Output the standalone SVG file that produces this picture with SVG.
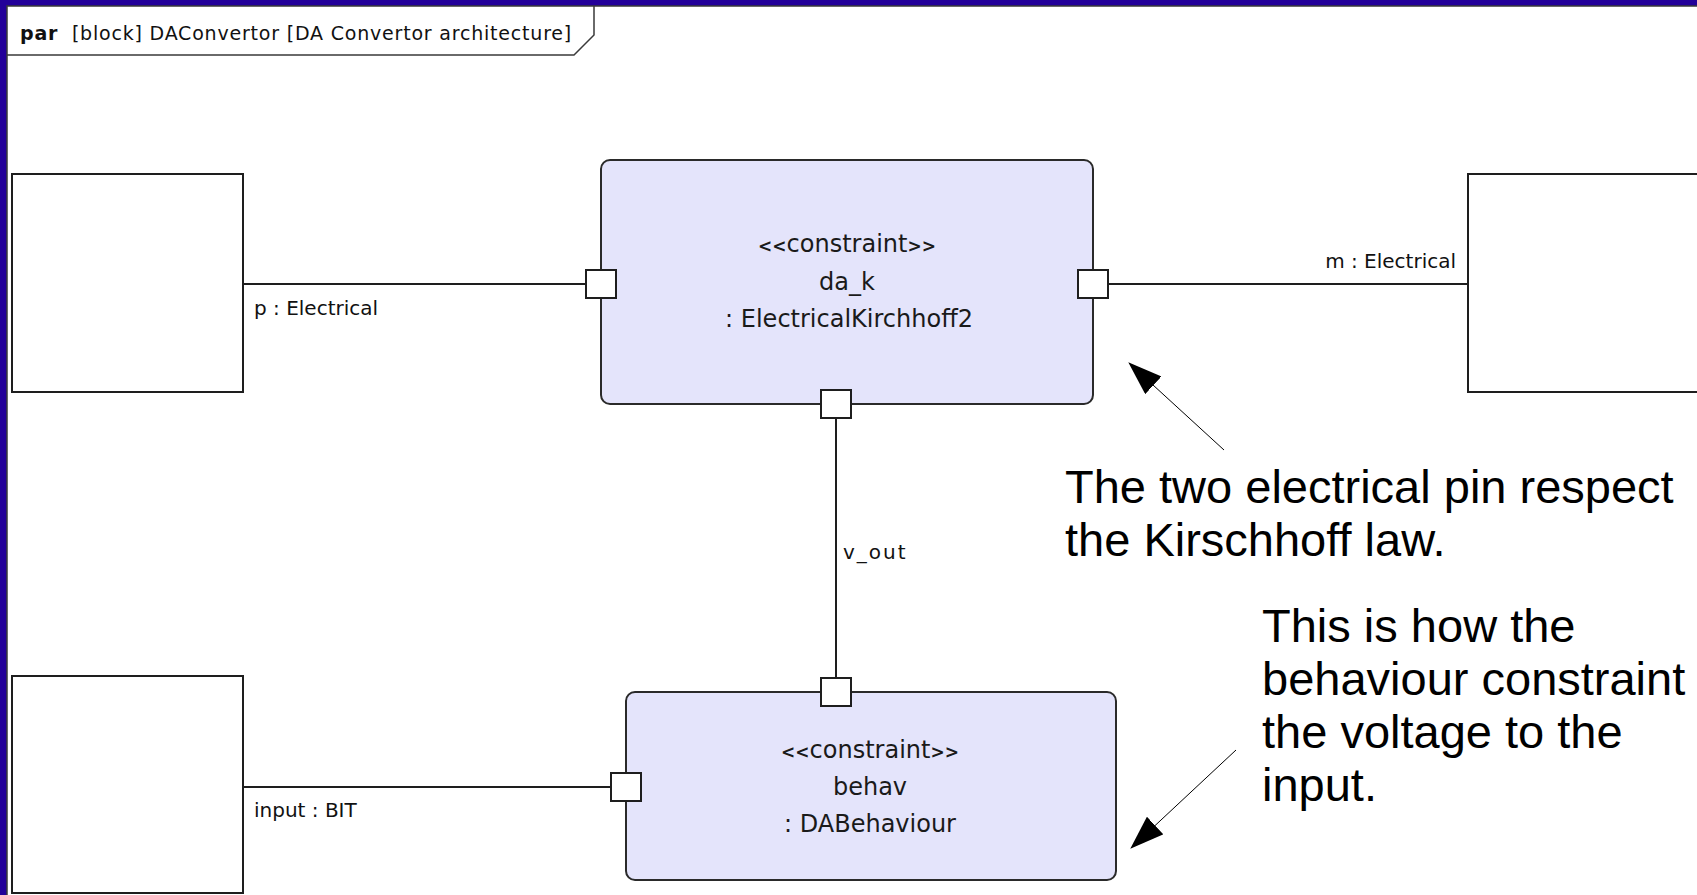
<svg xmlns="http://www.w3.org/2000/svg" width="1697" height="895" viewBox="0 0 1697 895">
<style>
.frame{fill:#ffffff;stroke:#3a3a3a;stroke-width:1.5}
.box{fill:#ffffff;stroke:#1e1e1e;stroke-width:2}
.blk{fill:#e4e4fb;stroke:#2a2a2a;stroke-width:2}
.port{fill:#ffffff;stroke:#1e1e1e;stroke-width:2}
.conn{stroke:#1e1e1e;stroke-width:2;fill:none}
.note{stroke:#000;stroke-width:1;fill:none}
.lbl{font-family:"DejaVu Sans",Verdana,sans-serif;font-size:20px;fill:#111}
.btxt{font-family:"DejaVu Sans",Verdana,sans-serif;font-size:24px;fill:#1a1a1a;text-anchor:middle}
.ang{font-size:17px;font-weight:bold}
.ann{font-family:"Liberation Sans",Arial,sans-serif;font-size:47px;fill:#000}
.ttl{font-family:"DejaVu Sans",Verdana,sans-serif;font-size:19px;fill:#111;letter-spacing:0.8px}
</style>
<defs>
<marker id="ah" markerUnits="userSpaceOnUse" markerWidth="34" markerHeight="24" refX="33" refY="12" orient="auto">
<path d="M0,0 L34,12 L0,24 z" fill="#000"/>
</marker>
</defs>
<rect x="0" y="0" width="1697" height="895" fill="#230099"/>
<rect class="frame" x="7" y="6" width="1700" height="900"/>
<g id="title">
<path d="M7,55 H574 L594,35 V6" fill="none" stroke="#3a3a3a" stroke-width="1.5"/>
<text class="ttl" x="20" y="40"><tspan font-weight="bold">par</tspan>&#160; [block] DAConvertor [DA Convertor architecture]</text>
</g>
<g id="connectors">
<line class="conn" x1="243" y1="284" x2="586" y2="284"/>
<line class="conn" x1="1108" y1="284" x2="1468" y2="284"/>
<line class="conn" x1="836" y1="418" x2="836" y2="678"/>
<line class="conn" x1="243" y1="787" x2="611" y2="787"/>
<text class="lbl" x="254" y="315">p : Electrical</text>
<text class="lbl" x="1456" y="268" text-anchor="end">m : Electrical</text>
<text class="lbl" x="843" y="559" letter-spacing="2">v_out</text>
<text class="lbl" x="254" y="817">input : BIT</text>
</g>
<g id="p_box"><rect class="box" x="12" y="174" width="231" height="218"/></g>
<g id="m_box"><rect class="box" x="1468" y="174" width="260" height="218"/></g>
<g id="input_box"><rect class="box" x="12" y="676" width="231" height="217"/></g>
<g id="da_k">
<rect class="blk" x="601" y="160" width="492" height="244" rx="9" ry="9"/>
<text class="btxt" x="847" y="252"><tspan class="ang">&lt;&lt;</tspan>constraint<tspan class="ang">&gt;&gt;</tspan></text>
<text class="btxt" x="847" y="290">da_k</text>
<text class="btxt" x="849" y="327">: ElectricalKirchhoff2</text>
<rect class="port" x="586" y="270" width="30" height="28"/>
<rect class="port" x="1078" y="270" width="30" height="28"/>
<rect class="port" x="821" y="390" width="30" height="28"/>
</g>
<g id="behav">
<rect class="blk" x="626" y="692" width="490" height="188" rx="9" ry="9"/>
<text class="btxt" x="870" y="758"><tspan class="ang">&lt;&lt;</tspan>constraint<tspan class="ang">&gt;&gt;</tspan></text>
<text class="btxt" x="870" y="795">behav</text>
<text class="btxt" x="870" y="832">: DABehaviour</text>
<rect class="port" x="821" y="678" width="30" height="28"/>
<rect class="port" x="611" y="773" width="30" height="28"/>
</g>
<g id="note1">
<line class="note" x1="1224" y1="450" x2="1129" y2="363" marker-end="url(#ah)"/>
<text class="ann" x="1065" y="503">The two electrical pin respect</text>
<text class="ann" x="1065" y="556">the Kirschhoff law.</text>
</g>
<g id="note2">
<line class="note" x1="1236" y1="750" x2="1131" y2="848" marker-end="url(#ah)"/>
<text class="ann" x="1262" y="642">This is how the</text>
<text class="ann" x="1262" y="695">behaviour constraint</text>
<text class="ann" x="1262" y="748">the voltage to the</text>
<text class="ann" x="1262" y="801">input.</text>
</g>
</svg>
